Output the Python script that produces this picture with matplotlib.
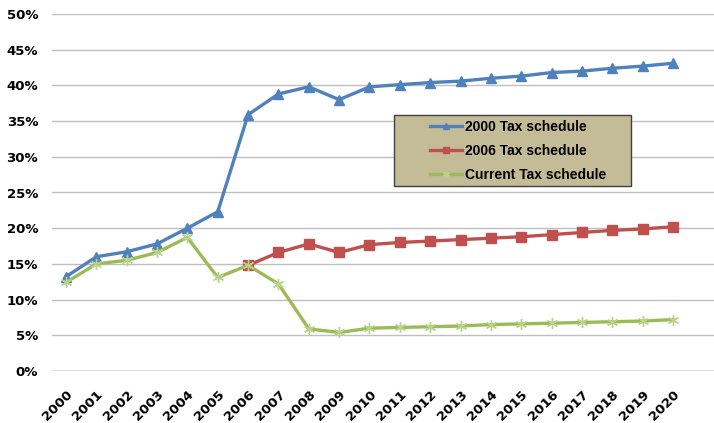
import numpy as np
import matplotlib.pyplot as plt
from matplotlib.patches import Rectangle

# tax rate by year under each schedule (%)
anios = [str(a) for a in range(2000, 2021)]
tasa_2000 = [13.2, 16.0, 16.7, 17.8, 20.0, 22.3, 35.9, 38.8, 39.8, 38.0, 39.8,
             40.1, 40.4, 40.6, 41.0, 41.3, 41.8, 42.0, 42.4, 42.7, 43.1]
anios_2006 = anios[6:]
tasa_2006 = [14.8, 16.6, 17.8, 16.6, 17.7, 18.0, 18.2, 18.4, 18.6, 18.8,
             19.1, 19.4, 19.7, 19.9, 20.2]
tasa_actual = [12.4, 15.0, 15.5, 16.6, 18.7, 13.1, 14.8, 12.2, 5.9, 5.4, 6.0,
               6.1, 6.2, 6.3, 6.5, 6.6, 6.7, 6.8, 6.9, 7.0, 7.2]
etiquetas = ["2000 Tax schedule", "2006 Tax schedule", "Current Tax schedule"]

azul = "#4F81BD"
rojo = "#C0504D"
verde = "#9BBB59"

fig = plt.figure(figsize=(7.14, 4.23), dpi=100)
ax = fig.add_axes([52 / 714, 1 - 371 / 423, 662 / 714, 357 / 423])

x = np.arange(len(anios))
x06 = x[6:]
ax.plot(x, tasa_2000, color=azul, lw=2.4, marker="^", ms=7, label=etiquetas[0])
ax.plot(x06, tasa_2006, color=rojo, lw=2.4, marker="s", ms=6.5, label=etiquetas[1])
ax.plot(x, tasa_actual, color=verde, lw=2.4, marker=(6, 2, 0), ms=8,
        mec="#B9D48A", mew=1, label=etiquetas[2])

ax.set_ylim(0, 50)
ax.set_xlim(-0.46, 21.35)
ax.set_yticks(np.arange(0, 51, 5))
ax.set_yticklabels([f"{v}%" for v in range(0, 51, 5)])
ax.set_xticks(x)
ax.set_xticklabels(anios, rotation=45, ha="right", rotation_mode="anchor")

for s in ax.spines.values():
    s.set_visible(False)
ax.grid(axis="y", color="#BFBFBF", lw=1)
ax.axhline(0, color="#868686", lw=1)
ax.set_axisbelow(True)
ax.tick_params(length=0, labelsize=9.5)
for t in ax.get_xticklabels() + ax.get_yticklabels():
    t.set_fontweight("bold")
ax.tick_params(axis="y", pad=10)
ax.tick_params(axis="x", pad=12)

# caja de la leyenda
caja = Rectangle((394 / 714, 1 - 186 / 423), 237 / 714, 71 / 423,
                 transform=fig.transFigure, facecolor="#C4BC96",
                 edgecolor="#404040", lw=1, zorder=5, clip_on=False)
ax.add_patch(caja)

leg = ax.legend(loc="upper left", bbox_to_anchor=(426 / 714, 1 - 116 / 423),
                bbox_transform=fig.transFigure, frameon=False,
                handlelength=2.3, handletextpad=0.2, borderpad=0.3,
                labelspacing=0.72,
                prop={"family": "Liberation Sans", "weight": "bold", "size": 10},
                markerscale=0.6, borderaxespad=0)
leg.set_zorder(6)

fig.savefig("out.png", dpi=100)
